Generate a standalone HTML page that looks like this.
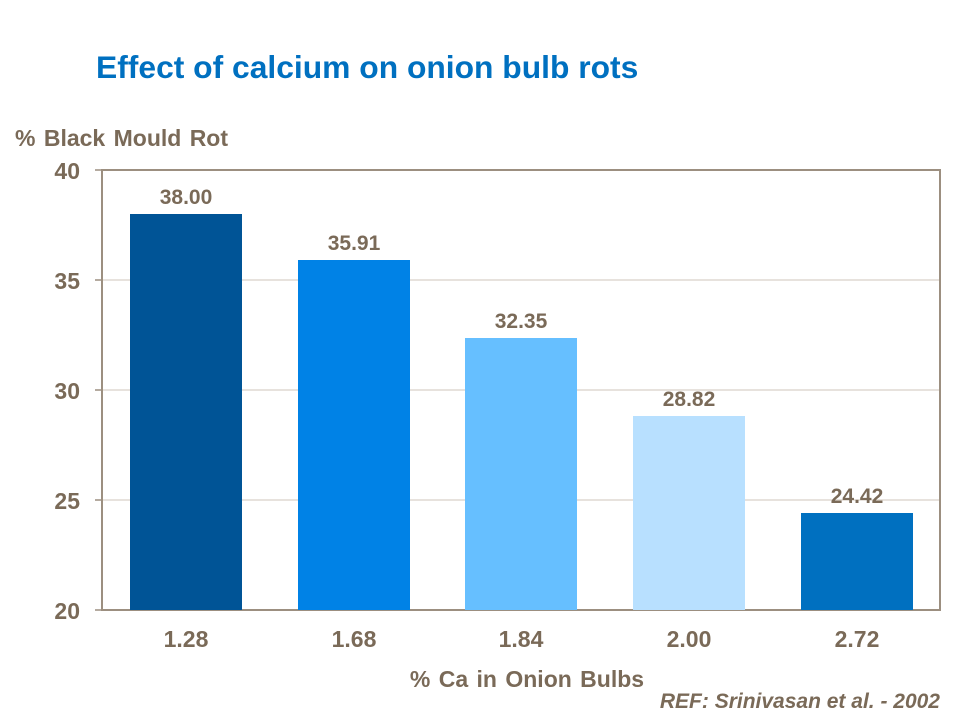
<!DOCTYPE html>
<html><head><meta charset="utf-8"><style>
body{margin:0;background:#fff;}
svg{display:block;font-family:"Liberation Sans",Arial,sans-serif;font-weight:bold;}
</style></head><body>
<svg width="960" height="720" viewBox="0 0 960 720">
<text x="96" y="78" font-size="31.8" fill="#0070c0">Effect of calcium on onion bulb rots</text>
<text x="15" y="146" font-size="23" fill="#7a6a58" word-spacing="2">% Black Mould Rot</text>
<g stroke="#cfc6bb" stroke-width="1">
<line x1="102" y1="280" x2="940" y2="280"/>
<line x1="102" y1="390" x2="940" y2="390"/>
<line x1="102" y1="500" x2="940" y2="500"/>
</g>
<rect x="102" y="170" width="838" height="440" fill="none" stroke="#9c8f80" stroke-width="2"/>
<g stroke="#9c8f80" stroke-width="1.5">
<line x1="95" y1="170" x2="102" y2="170"/><line x1="95" y1="280" x2="102" y2="280"/>
<line x1="95" y1="390" x2="102" y2="390"/><line x1="95" y1="500" x2="102" y2="500"/>
<line x1="95" y1="610" x2="102" y2="610"/>
</g>
<g font-size="23" fill="#7a6a58" text-anchor="end">
<text x="80" y="179">40</text><text x="80" y="289">35</text><text x="80" y="399">30</text><text x="80" y="509">25</text><text x="80" y="619">20</text>
</g>
<rect x="130" y="214" width="112" height="396" fill="#005496"/>
<rect x="298" y="260" width="112" height="350" fill="#0082e6"/>
<rect x="465" y="338" width="112" height="272" fill="#66bfff"/>
<rect x="633" y="416" width="112" height="194" fill="#b8e0ff"/>
<rect x="801" y="513" width="112" height="97" fill="#0070c0"/>
<g font-size="21" fill="#7a6a58" text-anchor="middle">
<text x="186" y="204">38.00</text><text x="354" y="250">35.91</text><text x="521" y="328">32.35</text><text x="689" y="406">28.82</text><text x="857" y="503">24.42</text>
</g>
<g font-size="23" fill="#7a6a58" text-anchor="middle">
<text x="186" y="647">1.28</text><text x="354" y="647">1.68</text><text x="521" y="647">1.84</text><text x="689" y="647">2.00</text><text x="857" y="647">2.72</text>
</g>
<text x="527" y="687" font-size="23" fill="#7a6a58" text-anchor="middle" word-spacing="2">% Ca in Onion Bulbs</text>
<text x="940" y="708" font-size="21" fill="#7a6a58" text-anchor="end" font-style="italic">REF: Srinivasan et al. - 2002</text>
</svg>
</body></html>
